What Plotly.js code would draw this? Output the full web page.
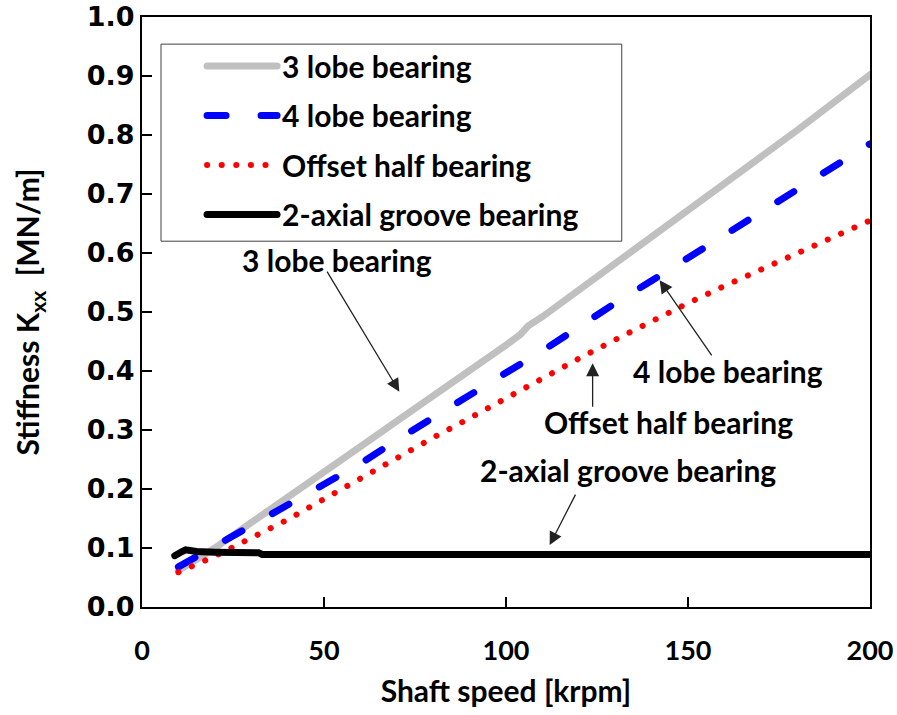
<!DOCTYPE html>
<html><head><meta charset="utf-8">
<script src="https://cdn.plot.ly/plotly-3.0.1.min.js"></script>
<style>
html,body{margin:0;padding:0;background:#fff;}
#chart{width:897px;height:715px;}
.scatterlayer path.js-line, .legendlines path.js-line {stroke-linecap: round;}
</style></head><body><div id="chart"></div>
<script>
// Shaft speed [krpm] and stiffness Kxx [MN/m]
const speed3Lobe = [10, 20, 30, 40, 50, 60, 70, 80, 90, 100, 104, 106, 110, 120, 130, 140, 150, 152, 160, 170, 180, 190, 200];
const kxx3Lobe   = [0.062, 0.100, 0.143, 0.185, 0.228, 0.272, 0.315, 0.357, 0.400, 0.444, 0.462, 0.476, 0.492, 0.537, 0.582, 0.627, 0.672, 0.682, 0.716, 0.762, 0.808, 0.855, 0.902];

const speed4Lobe = [10, 20, 30, 40, 50, 60, 70, 80, 90, 100, 110, 120, 130, 140, 150, 160, 170, 180, 190, 200];
const kxx4Lobe   = [0.068, 0.103, 0.135, 0.172, 0.206, 0.243, 0.283, 0.322, 0.360, 0.397, 0.434, 0.475, 0.515, 0.553, 0.592, 0.630, 0.667, 0.707, 0.745, 0.785];

const speedOffset = [10, 20, 30, 40, 50, 60, 70, 80, 90, 100, 110, 120, 130, 140, 150, 160, 170, 180, 190, 200];
const kxxOffset   = [0.059, 0.086, 0.117, 0.148, 0.183, 0.218, 0.252, 0.287, 0.320, 0.354, 0.388, 0.421, 0.453, 0.485, 0.515, 0.544, 0.572, 0.600, 0.627, 0.655];

const speedGroove = [9, 10, 11, 12, 13, 15, 20, 25, 30, 32, 33, 40, 60, 100, 150, 200];
const kxxGroove   = [0.087, 0.089, 0.094, 0.097, 0.096, 0.094, 0.093, 0.093, 0.092, 0.092, 0.089, 0.089, 0.089, 0.089, 0.089, 0.089];

const seriesNames = ['3 lobe bearing', '4 lobe bearing', 'Offset half bearing', '2-axial groove bearing'];
const xTicks = [0, 50, 100, 150, 200];
const xTickText = ['0', '50', '100', '150', '200'];
const yTicks = [0, 0.1, 0.2, 0.3, 0.4, 0.5, 0.6, 0.7, 0.8, 0.9, 1.0];

const FONT = 'Lato, "Open Sans", sans-serif';

const traces = [
  {x: speed3Lobe, y: kxx3Lobe, name: seriesNames[0], legendgroup: 'a', mode: 'lines',
   line: {color: '#c0c0c0', width: 7}},
  {x: speed4Lobe, y: kxx4Lobe, name: seriesNames[1], legendgroup: 'b', mode: 'lines',
   line: {color: '#0000ff', width: 7, dash: '19px,35px'}},
  {x: speedOffset, y: kxxOffset, name: seriesNames[2], legendgroup: 'c', mode: 'lines',
   line: {color: '#ff0000', width: 6, dash: '0.1px,14.5px'}},
  {x: speedGroove, y: kxxGroove, name: seriesNames[3], legendgroup: 'd', mode: 'lines',
   line: {color: '#000000', width: 7}}
];

const annFont = {family: FONT, size: 30, color: '#000', weight: 'bold'};
const arrowStyle = {axref: 'x', ayref: 'y', xref: 'x', yref: 'y', text: '', showarrow: true,
                    arrowhead: 2, arrowsize: 2, arrowwidth: 1.3, arrowcolor: '#222'};
const annotations = [
  // arrows
  Object.assign({x: 70.7, y: 0.365, ax: 50.6, ay: 0.571}, arrowStyle),
  Object.assign({x: 142.2, y: 0.554, ax: 156.8, ay: 0.424}, arrowStyle),
  Object.assign({x: 123.8, y: 0.413, ax: 123.8, ay: 0.337}, arrowStyle),
  Object.assign({x: 112, y: 0.105, ax: 119.3, ay: 0.193}, arrowStyle),
  // labels
  {x: 53.5, y: 0.588, xref: 'x', yref: 'y', text: seriesNames[0], showarrow: false, font: annFont},
  {x: 161, y: 0.400, xref: 'x', yref: 'y', text: seriesNames[1], showarrow: false, font: annFont},
  {x: 144.7, y: 0.314, xref: 'x', yref: 'y', text: seriesNames[2], showarrow: false, font: annFont},
  {x: 133.4, y: 0.233, xref: 'x', yref: 'y', text: seriesNames[3], showarrow: false, font: annFont}
];

const layout = {
  width: 897, height: 715,
  margin: {l: 142, r: 27, t: 17, b: 108},
  paper_bgcolor: '#fff', plot_bgcolor: '#fff',
  showlegend: true,
  legend: {x: 0.0825, y: 0.961, xanchor: 'left', yanchor: 'top',
           bgcolor: 'rgba(0,0,0,0)', borderwidth: 0,
           font: {family: FONT, size: 30, color: '#000', weight: 'bold'},
           itemwidth: 70, tracegroupgap: 7.5, traceorder: 'grouped'},
  shapes: [
    {type: 'rect', xref: 'paper', yref: 'paper', x0: 0.0261, x1: 0.659, y0: 0.620, y1: 0.954,
     line: {color: '#404040', width: 1}, fillcolor: '#fff', layer: 'below'}
  ],
  xaxis: {range: [0, 200], tickvals: xTicks, ticktext: xTickText,
          ticks: 'inside', ticklen: 10, tickwidth: 2, tickcolor: '#000',
          showline: true, linecolor: '#000', linewidth: 2, mirror: true,
          showgrid: false, zeroline: false, ticklabelstandoff: 19,
          tickfont: {family: FONT, size: 27, color: '#000', weight: 'bold'},
          title: {text: 'Shaft speed [krpm]', font: {family: FONT, size: 30, color: '#000', weight: 'bold'}, standoff: 16}},
  yaxis: {range: [0, 1.0], tickvals: yTicks, ticktext: yTicks.map(v => v.toFixed(1)),
          ticks: 'inside', ticklen: 10, tickwidth: 2, tickcolor: '#000',
          showline: true, linecolor: '#000', linewidth: 2, mirror: true,
          showgrid: false, zeroline: false,
          tickfont: {family: '"DejaVu Sans", Verdana, sans-serif', size: 27, color: '#000', weight: 'bold'},
          title: {text: 'Stiffness K<sub>xx</sub>  [MN/m]', font: {family: FONT, size: 30, color: '#000', weight: 'bold'}, standoff: 38}},
  annotations: annotations
};

Plotly.newPlot('chart', traces, layout, {displayModeBar: false, staticPlot: true});
</script></body></html>
